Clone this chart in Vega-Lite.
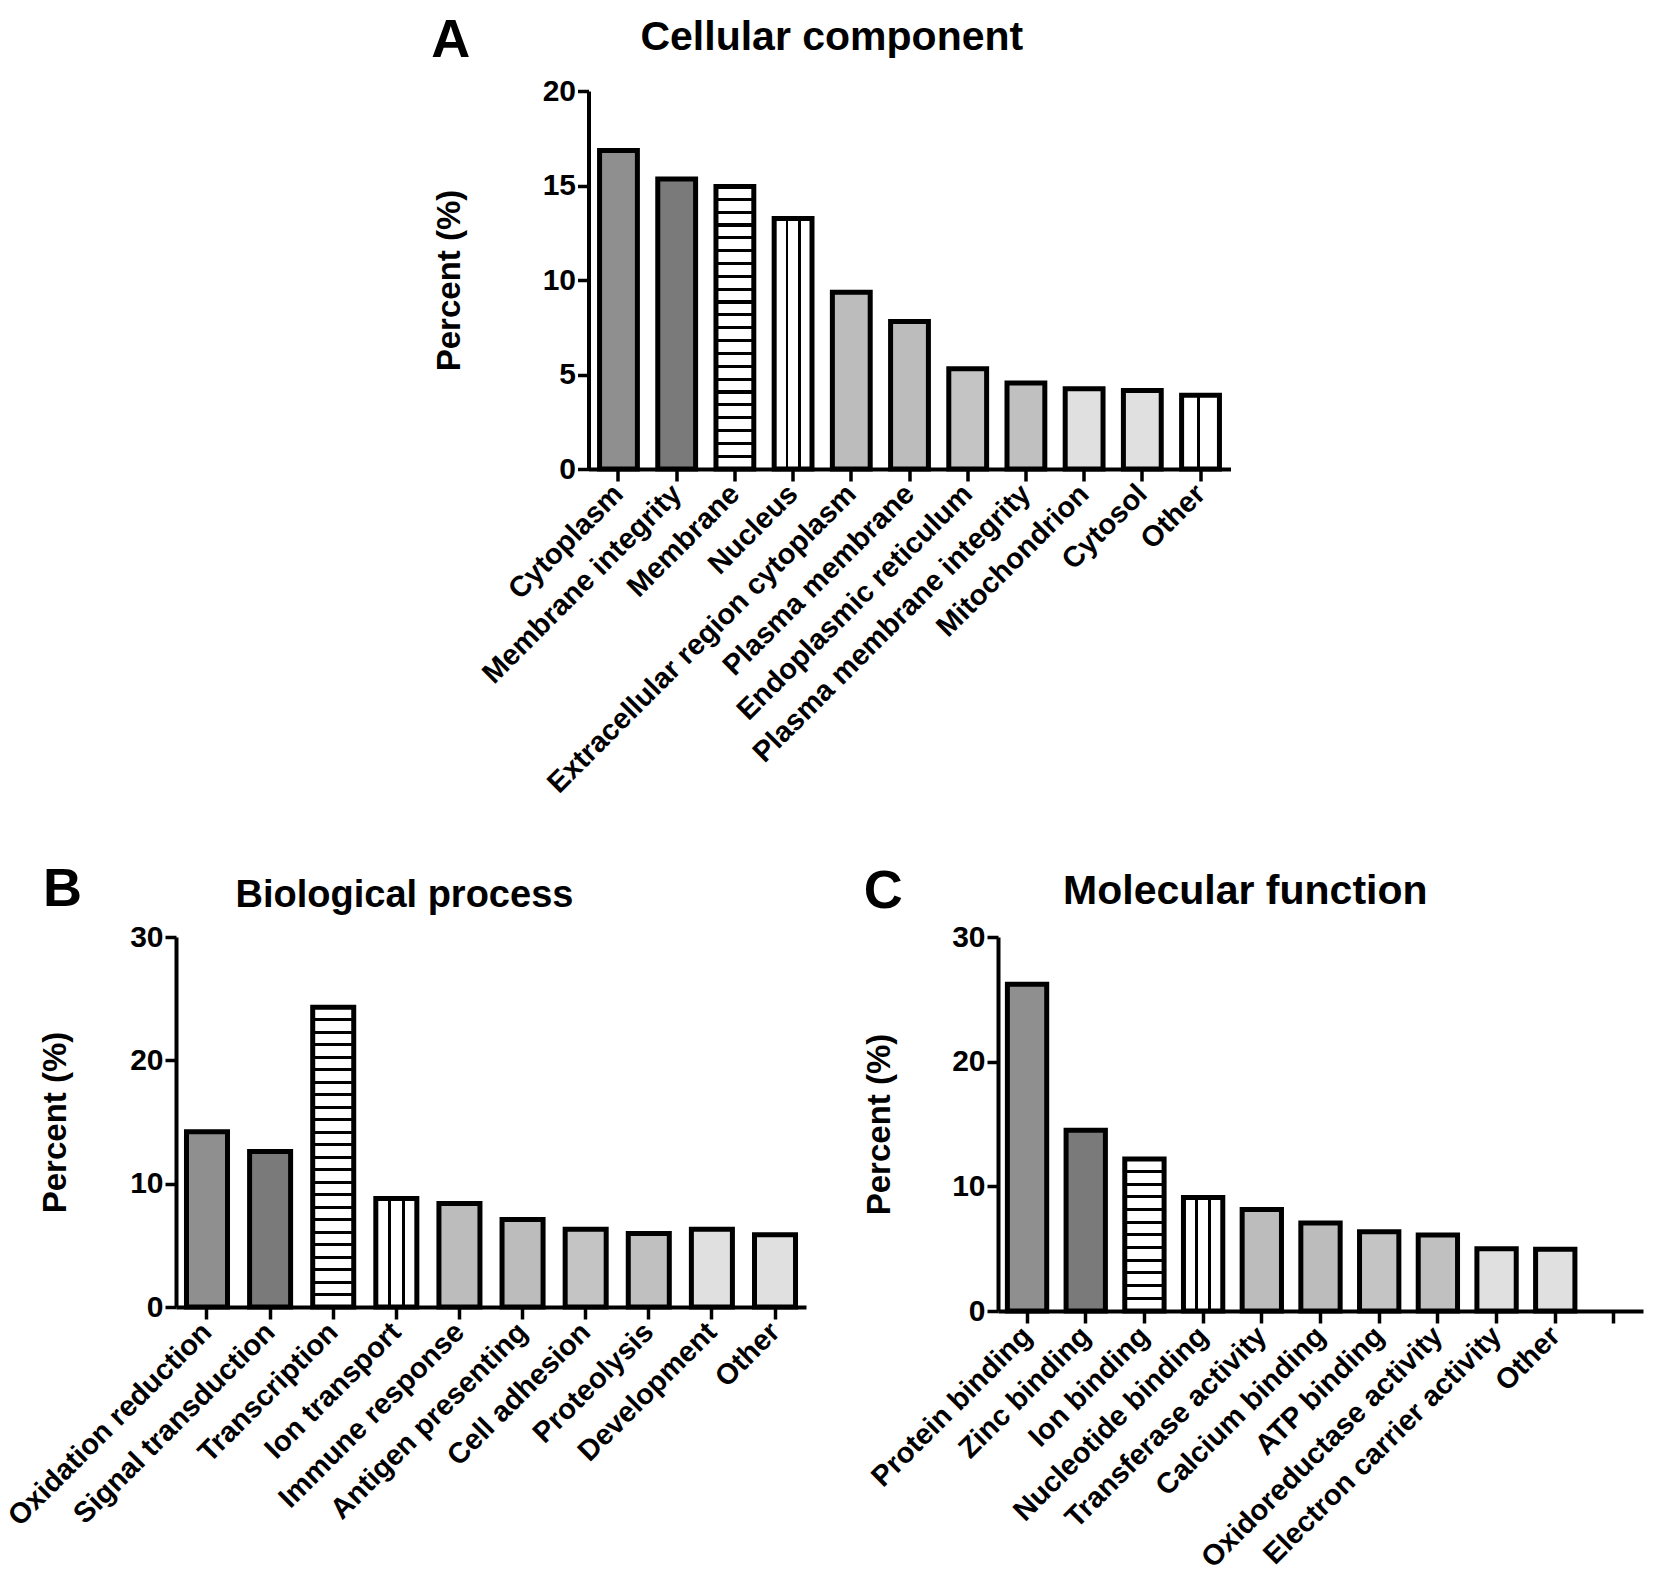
{
  "$schema": "https://vega.github.io/schema/vega-lite/v6.json",
  "background": "white",
  "padding": {"left": 2, "top": 14, "right": 5, "bottom": 5},
  "datasets": {
    "cc": [
      {"term": "Cytoplasm", "percent": 16.85},
      {"term": "Membrane integrity", "percent": 15.35},
      {"term": "Membrane", "percent": 14.95},
      {"term": "Nucleus", "percent": 13.25},
      {"term": "Extracellular region cytoplasm", "percent": 9.35},
      {"term": "Plasma membrane", "percent": 7.8},
      {"term": "Endoplasmic reticulum", "percent": 5.3},
      {"term": "Plasma membrane integrity", "percent": 4.55},
      {"term": "Mitochondrion", "percent": 4.25},
      {"term": "Cytosol", "percent": 4.15},
      {"term": "Other", "percent": 3.9}
    ],
    "bp": [
      {"term": "Oxidation reduction", "percent": 14.2},
      {"term": "Signal transduction", "percent": 12.6},
      {"term": "Transcription", "percent": 24.3},
      {"term": "Ion transport", "percent": 8.8},
      {"term": "Immune response", "percent": 8.4},
      {"term": "Antigen presenting", "percent": 7.1},
      {"term": "Cell adhesion", "percent": 6.3},
      {"term": "Proteolysis", "percent": 5.95},
      {"term": "Development", "percent": 6.3},
      {"term": "Other", "percent": 5.85}
    ],
    "mf": [
      {"term": "Protein binding", "percent": 26.2},
      {"term": "Zinc binding", "percent": 14.5},
      {"term": "Ion binding", "percent": 12.2},
      {"term": "Nucleotide binding", "percent": 9.1},
      {"term": "Transferase activity", "percent": 8.15},
      {"term": "Calcium binding", "percent": 7.05},
      {"term": "ATP binding", "percent": 6.35},
      {"term": "Oxidoreductase activity", "percent": 6.1},
      {"term": "Electron carrier activity", "percent": 5.0},
      {"term": "Other", "percent": 4.95}
    ]
  },
  "spacing": 64,
  "center": true,
  "resolve": {"scale": {"fill": "independent", "x": "independent", "y": "independent"}},
  "vconcat": [
    {
      "title": {"text": "A", "anchor": "start", "fontSize": 54, "offset": 0, "dy": 51, "dx": -2},
      "vconcat": [
        {
          "data": {"name": "cc"},
          "title": {"text": "Cellular component", "anchor": "middle", "frame": "bounds", "offset": 17},
          "width": 642,
          "height": 378,
          "mark": {"type": "bar", "stroke": "black", "strokeWidth": 5},
          "encoding": {
            "x": {
              "field": "term", "type": "nominal", "title": null,
              "scale": {
                "domain": ["Cytoplasm", "Membrane integrity", "Membrane", "Nucleus", "Extracellular region cytoplasm", "Plasma membrane", "Endoplasmic reticulum", "Plasma membrane integrity", "Mitochondrion", "Cytosol", "Other"],
                "paddingInner": 0.35, "paddingOuter": 0.19
              }
            },
            "y": {
              "field": "percent", "type": "quantitative", "title": "Percent (%)",
              "scale": {"domain": [0, 20], "nice": false},
              "axis": {"values": [0, 5, 10, 15, 20], "titlePadding": 76}
            },
            "fill": {
              "field": "term", "type": "nominal", "legend": null,
              "scale": {
                "domain": ["Cytoplasm", "Membrane integrity", "Membrane", "Nucleus", "Extracellular region cytoplasm", "Plasma membrane", "Endoplasmic reticulum", "Plasma membrane integrity", "Mitochondrion", "Cytosol", "Other"],
                "range": ["#8f8f8f", "#7a7a7a", "#c8c8c8", "#ffffff", "#bcbcbc", "#bcbcbc", "#c4c4c4", "#c0c0c0", "#e0e0e0", "#e0e0e0", "#ffffff"]
              },
              "condition": [
                {
                  "test": "datum.term === 'Membrane'",
                  "value": {
                    "gradient": "linear", "x1": 0, "y1": 0, "x2": 0, "y2": 1,
                    "stops": [
                      {"offset": 0.04, "color": "#fff"}, {"offset": 0.04, "color": "#000"}, {"offset": 0.051, "color": "#000"}, {"offset": 0.051, "color": "#fff"},
                      {"offset": 0.0854, "color": "#fff"}, {"offset": 0.0854, "color": "#000"}, {"offset": 0.0964, "color": "#000"}, {"offset": 0.0964, "color": "#fff"},
                      {"offset": 0.1309, "color": "#fff"}, {"offset": 0.1309, "color": "#000"}, {"offset": 0.1419, "color": "#000"}, {"offset": 0.1419, "color": "#fff"},
                      {"offset": 0.1763, "color": "#fff"}, {"offset": 0.1763, "color": "#000"}, {"offset": 0.1873, "color": "#000"}, {"offset": 0.1873, "color": "#fff"},
                      {"offset": 0.2218, "color": "#fff"}, {"offset": 0.2218, "color": "#000"}, {"offset": 0.2328, "color": "#000"}, {"offset": 0.2328, "color": "#fff"},
                      {"offset": 0.2672, "color": "#fff"}, {"offset": 0.2672, "color": "#000"}, {"offset": 0.2782, "color": "#000"}, {"offset": 0.2782, "color": "#fff"},
                      {"offset": 0.3127, "color": "#fff"}, {"offset": 0.3127, "color": "#000"}, {"offset": 0.3237, "color": "#000"}, {"offset": 0.3237, "color": "#fff"},
                      {"offset": 0.3581, "color": "#fff"}, {"offset": 0.3581, "color": "#000"}, {"offset": 0.3691, "color": "#000"}, {"offset": 0.3691, "color": "#fff"},
                      {"offset": 0.4036, "color": "#fff"}, {"offset": 0.4036, "color": "#000"}, {"offset": 0.4146, "color": "#000"}, {"offset": 0.4146, "color": "#fff"},
                      {"offset": 0.449, "color": "#fff"}, {"offset": 0.449, "color": "#000"}, {"offset": 0.46, "color": "#000"}, {"offset": 0.46, "color": "#fff"},
                      {"offset": 0.4945, "color": "#fff"}, {"offset": 0.4945, "color": "#000"}, {"offset": 0.5055, "color": "#000"}, {"offset": 0.5055, "color": "#fff"},
                      {"offset": 0.54, "color": "#fff"}, {"offset": 0.54, "color": "#000"}, {"offset": 0.551, "color": "#000"}, {"offset": 0.551, "color": "#fff"},
                      {"offset": 0.5854, "color": "#fff"}, {"offset": 0.5854, "color": "#000"}, {"offset": 0.5964, "color": "#000"}, {"offset": 0.5964, "color": "#fff"},
                      {"offset": 0.6309, "color": "#fff"}, {"offset": 0.6309, "color": "#000"}, {"offset": 0.6419, "color": "#000"}, {"offset": 0.6419, "color": "#fff"},
                      {"offset": 0.6763, "color": "#fff"}, {"offset": 0.6763, "color": "#000"}, {"offset": 0.6873, "color": "#000"}, {"offset": 0.6873, "color": "#fff"},
                      {"offset": 0.7218, "color": "#fff"}, {"offset": 0.7218, "color": "#000"}, {"offset": 0.7328, "color": "#000"}, {"offset": 0.7328, "color": "#fff"},
                      {"offset": 0.7672, "color": "#fff"}, {"offset": 0.7672, "color": "#000"}, {"offset": 0.7782, "color": "#000"}, {"offset": 0.7782, "color": "#fff"},
                      {"offset": 0.8127, "color": "#fff"}, {"offset": 0.8127, "color": "#000"}, {"offset": 0.8237, "color": "#000"}, {"offset": 0.8237, "color": "#fff"},
                      {"offset": 0.8581, "color": "#fff"}, {"offset": 0.8581, "color": "#000"}, {"offset": 0.8691, "color": "#000"}, {"offset": 0.8691, "color": "#fff"},
                      {"offset": 0.9036, "color": "#fff"}, {"offset": 0.9036, "color": "#000"}, {"offset": 0.9146, "color": "#000"}, {"offset": 0.9146, "color": "#fff"},
                      {"offset": 0.949, "color": "#fff"}, {"offset": 0.949, "color": "#000"}, {"offset": 0.96, "color": "#000"}, {"offset": 0.96, "color": "#fff"}
                    ]
                  }
                },
                {
                  "test": "datum.term === 'Nucleus'",
                  "value": {
                    "gradient": "linear", "x1": 0, "y1": 0, "x2": 1, "y2": 0,
                    "stops": [
                      {"offset": 0, "color": "white"}, {"offset": 0.3, "color": "white"},
                      {"offset": 0.3, "color": "black"}, {"offset": 0.37, "color": "black"},
                      {"offset": 0.37, "color": "white"}, {"offset": 0.63, "color": "white"},
                      {"offset": 0.63, "color": "black"}, {"offset": 0.7, "color": "black"},
                      {"offset": 0.7, "color": "white"}, {"offset": 1, "color": "white"}
                    ]
                  }
                },
                {
                  "test": "datum.term === 'Other'",
                  "value": {
                    "gradient": "linear", "x1": 0, "y1": 0, "x2": 1, "y2": 0,
                    "stops": [
                      {"offset": 0, "color": "white"}, {"offset": 0.4, "color": "white"},
                      {"offset": 0.4, "color": "black"}, {"offset": 0.48, "color": "black"},
                      {"offset": 0.48, "color": "white"}, {"offset": 1, "color": "white"}
                    ]
                  }
                }
              ]
            }
          }
        }
      ]
    },
    {
      "spacing": 57,
      "resolve": {"scale": {"fill": "independent", "x": "independent", "y": "independent"}},
      "hconcat": [
        {
          "title": {"text": "B", "anchor": "start", "fontSize": 54, "offset": 0, "dy": 40, "dx": 40},
          "vconcat": [
            {
              "data": {"name": "bp"},
              "title": {"text": "Biological process", "anchor": "middle", "frame": "bounds", "offset": 7, "fontSize": 38},
              "width": 630,
              "height": 370,
              "mark": {"type": "bar", "stroke": "black", "strokeWidth": 5},
              "encoding": {
                "x": {
                  "field": "term", "type": "nominal", "title": null,
                  "scale": {
                    "domain": ["Oxidation reduction", "Signal transduction", "Transcription", "Ion transport", "Immune response", "Antigen presenting", "Cell adhesion", "Proteolysis", "Development", "Other"],
                    "paddingInner": 0.35, "paddingOuter": 0.166
                  }
                },
                "y": {
                  "field": "percent", "type": "quantitative", "title": "Percent (%)",
                  "scale": {"domain": [0, 30], "nice": false},
                  "axis": {"values": [0, 10, 20, 30], "titlePadding": 57}
                },
                "fill": {
                  "field": "term", "type": "nominal", "legend": null,
                  "scale": {
                    "domain": ["Oxidation reduction", "Signal transduction", "Transcription", "Ion transport", "Immune response", "Antigen presenting", "Cell adhesion", "Proteolysis", "Development", "Other"],
                    "range": ["#8f8f8f", "#7a7a7a", "#c8c8c8", "#ffffff", "#bcbcbc", "#bcbcbc", "#c4c4c4", "#c0c0c0", "#e0e0e0", "#e0e0e0"]
                  },
                  "condition": [
                    {
                      "test": "datum.term === 'Transcription'",
                      "value": {
                        "gradient": "linear", "x1": 0, "y1": 0, "x2": 0, "y2": 1,
                        "stops": [
                          {"offset": 0.0367, "color": "#fff"}, {"offset": 0.0367, "color": "#000"}, {"offset": 0.0467, "color": "#000"}, {"offset": 0.0467, "color": "#fff"},
                          {"offset": 0.0783, "color": "#fff"}, {"offset": 0.0783, "color": "#000"}, {"offset": 0.0883, "color": "#000"}, {"offset": 0.0883, "color": "#fff"},
                          {"offset": 0.12, "color": "#fff"}, {"offset": 0.12, "color": "#000"}, {"offset": 0.13, "color": "#000"}, {"offset": 0.13, "color": "#fff"},
                          {"offset": 0.1617, "color": "#fff"}, {"offset": 0.1617, "color": "#000"}, {"offset": 0.1717, "color": "#000"}, {"offset": 0.1717, "color": "#fff"},
                          {"offset": 0.2033, "color": "#fff"}, {"offset": 0.2033, "color": "#000"}, {"offset": 0.2133, "color": "#000"}, {"offset": 0.2133, "color": "#fff"},
                          {"offset": 0.245, "color": "#fff"}, {"offset": 0.245, "color": "#000"}, {"offset": 0.255, "color": "#000"}, {"offset": 0.255, "color": "#fff"},
                          {"offset": 0.2867, "color": "#fff"}, {"offset": 0.2867, "color": "#000"}, {"offset": 0.2967, "color": "#000"}, {"offset": 0.2967, "color": "#fff"},
                          {"offset": 0.3283, "color": "#fff"}, {"offset": 0.3283, "color": "#000"}, {"offset": 0.3383, "color": "#000"}, {"offset": 0.3383, "color": "#fff"},
                          {"offset": 0.37, "color": "#fff"}, {"offset": 0.37, "color": "#000"}, {"offset": 0.38, "color": "#000"}, {"offset": 0.38, "color": "#fff"},
                          {"offset": 0.4117, "color": "#fff"}, {"offset": 0.4117, "color": "#000"}, {"offset": 0.4217, "color": "#000"}, {"offset": 0.4217, "color": "#fff"},
                          {"offset": 0.4533, "color": "#fff"}, {"offset": 0.4533, "color": "#000"}, {"offset": 0.4633, "color": "#000"}, {"offset": 0.4633, "color": "#fff"},
                          {"offset": 0.495, "color": "#fff"}, {"offset": 0.495, "color": "#000"}, {"offset": 0.505, "color": "#000"}, {"offset": 0.505, "color": "#fff"},
                          {"offset": 0.5367, "color": "#fff"}, {"offset": 0.5367, "color": "#000"}, {"offset": 0.5467, "color": "#000"}, {"offset": 0.5467, "color": "#fff"},
                          {"offset": 0.5783, "color": "#fff"}, {"offset": 0.5783, "color": "#000"}, {"offset": 0.5883, "color": "#000"}, {"offset": 0.5883, "color": "#fff"},
                          {"offset": 0.62, "color": "#fff"}, {"offset": 0.62, "color": "#000"}, {"offset": 0.63, "color": "#000"}, {"offset": 0.63, "color": "#fff"},
                          {"offset": 0.6617, "color": "#fff"}, {"offset": 0.6617, "color": "#000"}, {"offset": 0.6717, "color": "#000"}, {"offset": 0.6717, "color": "#fff"},
                          {"offset": 0.7033, "color": "#fff"}, {"offset": 0.7033, "color": "#000"}, {"offset": 0.7133, "color": "#000"}, {"offset": 0.7133, "color": "#fff"},
                          {"offset": 0.745, "color": "#fff"}, {"offset": 0.745, "color": "#000"}, {"offset": 0.755, "color": "#000"}, {"offset": 0.755, "color": "#fff"},
                          {"offset": 0.7867, "color": "#fff"}, {"offset": 0.7867, "color": "#000"}, {"offset": 0.7967, "color": "#000"}, {"offset": 0.7967, "color": "#fff"},
                          {"offset": 0.8283, "color": "#fff"}, {"offset": 0.8283, "color": "#000"}, {"offset": 0.8383, "color": "#000"}, {"offset": 0.8383, "color": "#fff"},
                          {"offset": 0.87, "color": "#fff"}, {"offset": 0.87, "color": "#000"}, {"offset": 0.88, "color": "#000"}, {"offset": 0.88, "color": "#fff"},
                          {"offset": 0.9117, "color": "#fff"}, {"offset": 0.9117, "color": "#000"}, {"offset": 0.9217, "color": "#000"}, {"offset": 0.9217, "color": "#fff"},
                          {"offset": 0.9533, "color": "#fff"}, {"offset": 0.9533, "color": "#000"}, {"offset": 0.9633, "color": "#000"}, {"offset": 0.9633, "color": "#fff"}
                        ]
                      }
                    },
                    {
                      "test": "datum.term === 'Ion transport'",
                      "value": {
                        "gradient": "linear", "x1": 0, "y1": 0, "x2": 1, "y2": 0,
                        "stops": [
                          {"offset": 0, "color": "white"}, {"offset": 0.3, "color": "white"},
                          {"offset": 0.3, "color": "black"}, {"offset": 0.37, "color": "black"},
                          {"offset": 0.37, "color": "white"}, {"offset": 0.63, "color": "white"},
                          {"offset": 0.63, "color": "black"}, {"offset": 0.7, "color": "black"},
                          {"offset": 0.7, "color": "white"}, {"offset": 1, "color": "white"}
                        ]
                      }
                    }
                  ]
                }
              }
            }
          ]
        },
        {
          "title": {"text": "C", "anchor": "start", "fontSize": 54, "offset": 0, "dy": 48, "dx": 0},
          "vconcat": [
            {
              "data": {"name": "mf"},
              "title": {"text": "Molecular function", "anchor": "middle", "frame": "bounds", "offset": 3, "dy": -6, "dx": -8},
              "width": 645,
              "height": 374,
              "mark": {"type": "bar", "stroke": "black", "strokeWidth": 5},
              "encoding": {
                "x": {
                  "field": "term", "type": "nominal", "title": null,
                  "scale": {
                    "domain": ["Protein binding", "Zinc binding", "Ion binding", "Nucleotide binding", "Transferase activity", "Calcium binding", "ATP binding", "Oxidoreductase activity", "Electron carrier activity", "Other", " "],
                    "paddingInner": 0.33, "paddingOuter": 0.16
                  }
                },
                "y": {
                  "field": "percent", "type": "quantitative", "title": "Percent (%)",
                  "scale": {"domain": [0, 30], "nice": false},
                  "axis": {"values": [0, 10, 20, 30], "titlePadding": 55}
                },
                "fill": {
                  "field": "term", "type": "nominal", "legend": null,
                  "scale": {
                    "domain": ["Protein binding", "Zinc binding", "Ion binding", "Nucleotide binding", "Transferase activity", "Calcium binding", "ATP binding", "Oxidoreductase activity", "Electron carrier activity", "Other"],
                    "range": ["#8f8f8f", "#7a7a7a", "#c8c8c8", "#ffffff", "#bcbcbc", "#bcbcbc", "#c4c4c4", "#c0c0c0", "#e0e0e0", "#e0e0e0"]
                  },
                  "condition": [
                    {
                      "test": "datum.term === 'Ion binding'",
                      "value": {
                        "gradient": "linear", "x1": 0, "y1": 0, "x2": 0, "y2": 1,
                        "stops": [
                          {"offset": 0.0733, "color": "#fff"}, {"offset": 0.0733, "color": "#000"}, {"offset": 0.0933, "color": "#000"}, {"offset": 0.0933, "color": "#fff"},
                          {"offset": 0.1567, "color": "#fff"}, {"offset": 0.1567, "color": "#000"}, {"offset": 0.1767, "color": "#000"}, {"offset": 0.1767, "color": "#fff"},
                          {"offset": 0.24, "color": "#fff"}, {"offset": 0.24, "color": "#000"}, {"offset": 0.26, "color": "#000"}, {"offset": 0.26, "color": "#fff"},
                          {"offset": 0.3233, "color": "#fff"}, {"offset": 0.3233, "color": "#000"}, {"offset": 0.3433, "color": "#000"}, {"offset": 0.3433, "color": "#fff"},
                          {"offset": 0.4067, "color": "#fff"}, {"offset": 0.4067, "color": "#000"}, {"offset": 0.4267, "color": "#000"}, {"offset": 0.4267, "color": "#fff"},
                          {"offset": 0.49, "color": "#fff"}, {"offset": 0.49, "color": "#000"}, {"offset": 0.51, "color": "#000"}, {"offset": 0.51, "color": "#fff"},
                          {"offset": 0.5733, "color": "#fff"}, {"offset": 0.5733, "color": "#000"}, {"offset": 0.5933, "color": "#000"}, {"offset": 0.5933, "color": "#fff"},
                          {"offset": 0.6567, "color": "#fff"}, {"offset": 0.6567, "color": "#000"}, {"offset": 0.6767, "color": "#000"}, {"offset": 0.6767, "color": "#fff"},
                          {"offset": 0.74, "color": "#fff"}, {"offset": 0.74, "color": "#000"}, {"offset": 0.76, "color": "#000"}, {"offset": 0.76, "color": "#fff"},
                          {"offset": 0.8233, "color": "#fff"}, {"offset": 0.8233, "color": "#000"}, {"offset": 0.8433, "color": "#000"}, {"offset": 0.8433, "color": "#fff"},
                          {"offset": 0.9067, "color": "#fff"}, {"offset": 0.9067, "color": "#000"}, {"offset": 0.9267, "color": "#000"}, {"offset": 0.9267, "color": "#fff"}
                        ]
                      }
                    },
                    {
                      "test": "datum.term === 'Nucleotide binding'",
                      "value": {
                        "gradient": "linear", "x1": 0, "y1": 0, "x2": 1, "y2": 0,
                        "stops": [
                          {"offset": 0, "color": "white"}, {"offset": 0.3, "color": "white"},
                          {"offset": 0.3, "color": "black"}, {"offset": 0.37, "color": "black"},
                          {"offset": 0.37, "color": "white"}, {"offset": 0.63, "color": "white"},
                          {"offset": 0.63, "color": "black"}, {"offset": 0.7, "color": "black"},
                          {"offset": 0.7, "color": "white"}, {"offset": 1, "color": "white"}
                        ]
                      }
                    }
                  ]
                }
              }
            }
          ]
        }
      ]
    }
  ],
  "config": {
    "font": "Liberation Sans",
    "view": {"stroke": null},
    "title": {"font": "Liberation Sans", "fontWeight": "bold", "fontSize": 41, "color": "black", "offset": 17},
    "axis": {
      "grid": false,
      "domainColor": "black",
      "domainWidth": 4,
      "tickColor": "black",
      "tickWidth": 3.5,
      "tickSize": 11,
      "labelFont": "Liberation Sans",
      "labelFontWeight": "bold",
      "labelFontSize": 30,
      "labelColor": "black",
      "labelPadding": 2,
      "titleFont": "Liberation Sans",
      "titleFontWeight": "bold",
      "titleFontSize": 33,
      "titleColor": "black"
    },
    "axisX": {
      "labelAngle": -45,
      "labelAlign": "right",
      "labelBaseline": "middle",
      "labelFontSize": 29,
      "labelOverlap": false,
      "labelLimit": 1000,
      "labelPadding": 8,
      "tickSize": 12
    }
  }
}
